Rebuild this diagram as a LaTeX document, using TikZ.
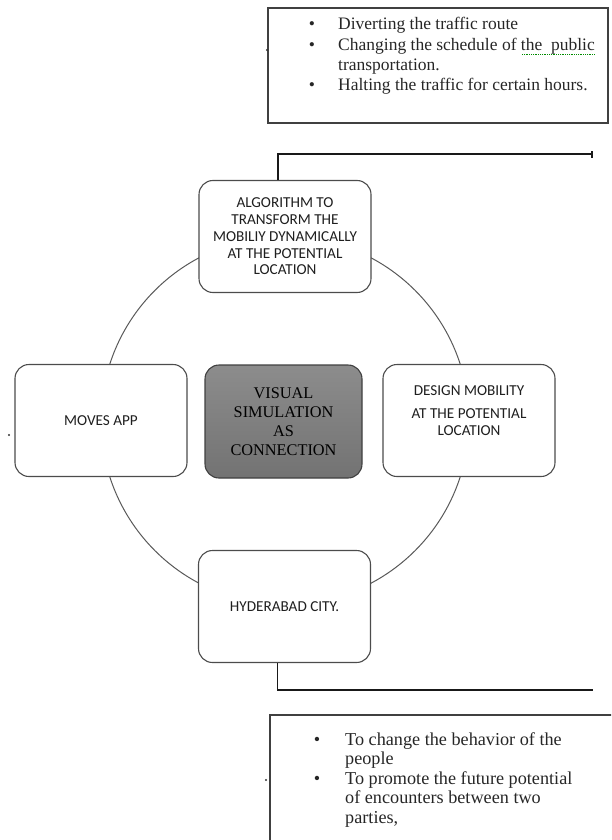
\documentclass[tikz,border=0pt]{standalone}
\usepackage{fontspec}
\setmainfont{Liberation Serif}
\newfontfamily\capsfont{Carlito}
\usetikzlibrary{arrows.meta}

\begin{document}
\begin{tikzpicture}[x=1pt,y=-1pt,
        stage/.style={draw=black!70,line width=1.1pt,rounded corners=14pt,fill=white,
            minimum width=172pt,minimum height=112pt,inner sep=2pt,align=center,
            text=black!88,font={\capsfont\fontsize{15.2}{16.7}\selectfont}},
        hubbox/.style={draw=black!75,line width=1.1pt,rounded corners=14pt,
            top color=black!45,bottom color=black!55,
            minimum width=157pt,minimum height=113pt,align=center,
            text=black,font={\fontsize{16.3}{19}\selectfont}},
        ring/.style={draw=black!65,line width=1pt},
        link/.style={line width=1.8pt,black!90},
        notebox/.style={draw=black!75,line width=1.2pt},
        noteline/.style={anchor=base west,inner sep=0pt,text=black!85},
        dotmark/.style={anchor=base,inner sep=0pt,text=black!85}]

    \useasboundingbox (0,0) rectangle (611,840);
    \begin{scope}
        \clip (0,0) rectangle (611,840);

        % ring first, the boxes sit on it
        \coordinate (hub) at (285,420.5);
        \draw [ring] (hub) circle (184);

        \node [stage] (algo) at (285,236.5) {ALGORITHM TO\\TRANSFORM THE\\MOBILIY DYNAMICALLY\\AT THE POTENTIAL\\LOCATION};
        \node [stage] (moves) at (101,420.5) {MOVES APP};
        \node [stage,text depth=20pt] (design) at (469,420.5) {DESIGN MOBILITY\\[6pt]AT THE POTENTIAL\\LOCATION};
        \node [stage] (city) at (284.5,606.5) {HYDERABAD CITY.};
        \node [hubbox] (visual) at (283.5,421.5) {VISUAL\\SIMULATION\\AS\\CONNECTION};

        % connectors out to the right
        \coordinate (upend) at (593,154);
        \coordinate (downend) at (593,690);
        \draw [link,-{Rectangle[length=2.5pt,width=7pt]}] ([xshift=-7pt]algo.north) |- (upend);
        \draw [link] ([xshift=-7pt]city.south) |- (downend);

        % upper note
        \draw [notebox] (268,8) rectangle (608,123);
        \foreach \y/\txt [count=\i] in {30/Diverting the traffic route,
                50.3/Changing the schedule of the\ \ public,
                70.6/transportation.,
                91/Halting the traffic for certain hours.}{%
            \node [noteline,font=\fontsize{17.5}{20}\selectfont] (up\i) at (338,\y) {\txt};
        }
        \foreach \y [count=\i] in {30,50.3,91}{%
            \node [dotmark,font=\fontsize{17.5}{20}\selectfont] (updot\i) at (312,\y) {•};
        }
        \draw [green!55!black,densely dotted,line width=0.8pt] (522,54) -- (595,54);

        % lower note
        \draw [notebox] (270,715) rectangle (640,880);
        \foreach \y/\txt [count=\i] in {745/To change the behavior of the,
                764.5/people,
                784/To promote the future potential,
                803.5/of encounters between two,
                823/{parties,}}{%
            \node [noteline,font=\fontsize{18.2}{19.5}\selectfont] (low\i) at (345,\y) {\txt};
        }
        \foreach \y [count=\i] in {745,784}{%
            \node [dotmark,font=\fontsize{18.2}{19.5}\selectfont] (lowdot\i) at (317,\y) {•};
        }

        % stray marks
        \fill [black!80] (9,435) circle (1.2) (267,50) circle (1.2) (266,780) circle (1.2);
    \end{scope}
\end{tikzpicture}
\end{document}
